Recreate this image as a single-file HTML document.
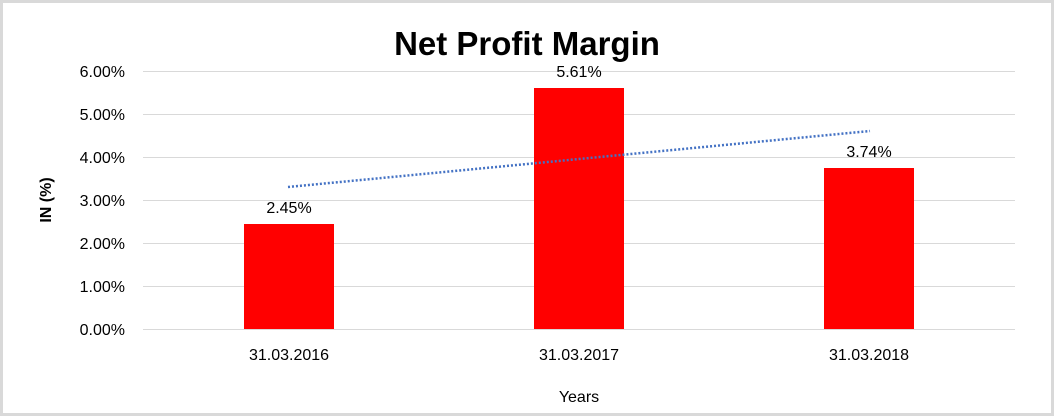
<!DOCTYPE html>
<html><head><style>
body{margin:0;background:#fff}
svg{display:block}
text{font-family:"Liberation Sans",Arial,sans-serif;fill:#000}
</style></head><body>
<svg width="1054" height="416" viewBox="0 0 1054 416">
<rect x="1.5" y="1.5" width="1051" height="413" fill="#fff" stroke="#d9d9d9" stroke-width="3"/>
<text x="527" y="55" font-size="33" font-weight="bold" text-anchor="middle">Net Profit Margin</text>
<g stroke="#d9d9d9" stroke-width="1">
<line x1="143" y1="71.5" x2="1015" y2="71.5"/>
<line x1="143" y1="114.5" x2="1015" y2="114.5"/>
<line x1="143" y1="157.5" x2="1015" y2="157.5"/>
<line x1="143" y1="200.5" x2="1015" y2="200.5"/>
<line x1="143" y1="243.5" x2="1015" y2="243.5"/>
<line x1="143" y1="286.5" x2="1015" y2="286.5"/>
<line x1="143" y1="329.5" x2="1015" y2="329.5"/>
</g>
<g font-size="16" text-anchor="end">
<text x="125" y="77">6.00%</text>
<text x="125" y="120">5.00%</text>
<text x="125" y="163">4.00%</text>
<text x="125" y="206">3.00%</text>
<text x="125" y="249">2.00%</text>
<text x="125" y="292">1.00%</text>
<text x="125" y="335">0.00%</text>
</g>
<g fill="#ff0000">
<rect x="244" y="224" width="90" height="105"/>
<rect x="534" y="88" width="90" height="241"/>
<rect x="824" y="168" width="90" height="161"/>
</g>
<line x1="288" y1="187" x2="870" y2="131" stroke="#4472c4" stroke-width="2.5" stroke-dasharray="2,2"/>
<g font-size="16" text-anchor="middle">
<text x="289" y="213">2.45%</text>
<text x="579" y="77">5.61%</text>
<text x="869" y="157">3.74%</text>
<text x="289" y="360">31.03.2016</text>
<text x="579" y="360">31.03.2017</text>
<text x="869" y="360">31.03.2018</text>
<text x="579" y="402">Years</text>
</g>
<text transform="translate(51,200) rotate(-90)" font-size="16" font-weight="bold" text-anchor="middle">IN (%)</text>
</svg>
</body></html>
